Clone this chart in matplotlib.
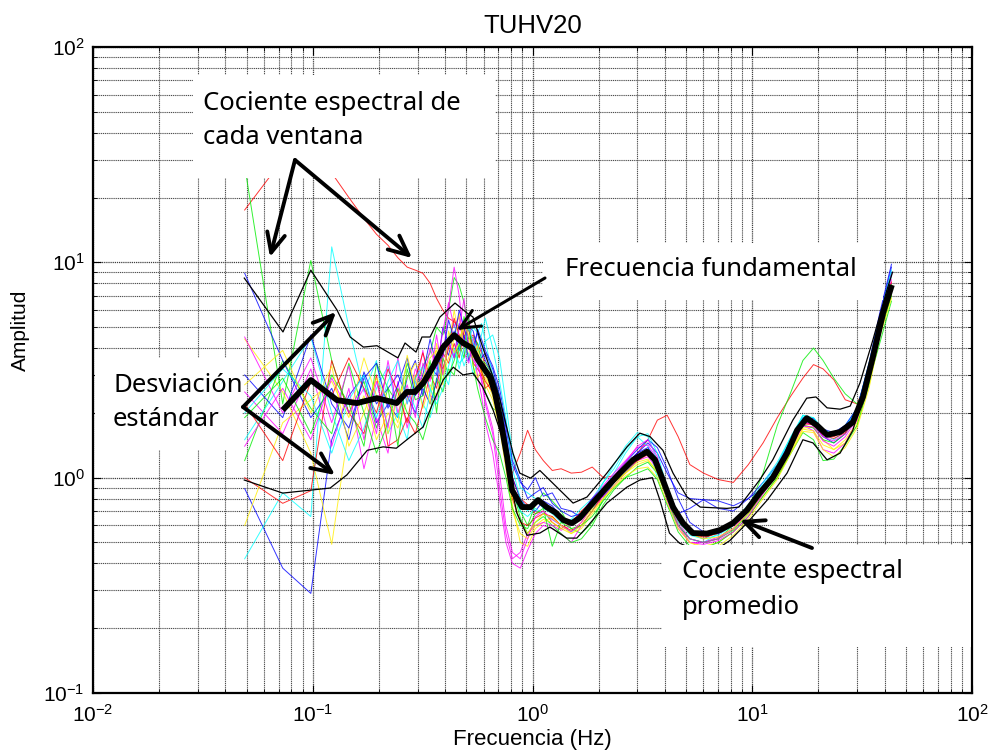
import matplotlib
matplotlib.use('Agg')
import matplotlib.pyplot as plt
from matplotlib.patches import Rectangle

plt.rcParams['font.family'] = ['Liberation Sans', 'DejaVu Sans']
plt.rcParams['mathtext.default'] = 'regular'

# ---------------- data ----------------
freq_win = [0.049, 0.073, 0.098, 0.122, 0.146, 0.171, 0.195, 0.220, 0.244, 0.269,
            0.293, 0.317, 0.342, 0.366, 0.391, 0.415, 0.440, 0.464, 0.488, 0.513,
            0.537, 0.562, 0.586, 0.610, 0.659, 0.708, 0.757,
            0.81, 0.88, 0.95, 1.03, 1.12, 1.23, 1.35, 1.5, 1.67, 1.87,
            2.1, 2.35, 2.65, 3.0, 3.35, 3.7, 4.1, 4.6, 5.2, 6.0,
            7.0, 8.2, 9.6,
            11.2, 13, 15, 17, 19, 21, 23.5, 26.5, 30, 34,
            38, 43]

win01 = [17.5, 30, 32, 26, 20, 16, 13.5, 12, 10.5, 9.5,
         9.2, 8.9, 8.0, 6.8, 6.0, 5.5, 5.3, 5.0, 4.6, 4.4,
         4.6, 4.2, 3.8, 3.3, 2.6, 1.9, 1.3,
         1.05, 1.3, 1.66, 1.35, 1.2, 1.08, 1.1, 1.05, 1.06, 1.12,
         1.0, 1.02, 1.15, 1.3, 1.5, 1.85, 1.95, 1.55, 1.15, 1.05,
         0.98, 0.95, 1.15,
         1.45, 1.9, 2.4, 2.9, 3.35, 3.2, 2.85, 2.3, 2.2, 3.0,
         4.8, 7.5]
win02 = [28, 2.2, 10.2, 3.5, 2.0, 2.8, 1.7, 2.6, 2.2, 3.4,
         2.6, 3.3, 3.8, 5.0, 4.6, 6.0, 8.5, 7.8, 6.5, 5.0,
         4.0, 3.6, 3.4, 2.5, 2.1, 2.0, 1.4,
         0.9, 0.7, 0.6, 0.75, 0.85, 0.78, 0.7, 0.58, 0.55, 0.62,
         0.8, 0.95, 1.05, 1.2, 1.35, 1.15, 0.8, 0.6, 0.52, 0.5,
         0.52, 0.6, 0.72,
         1.05, 1.75, 2.5, 3.5, 4.0, 3.5, 2.9, 2.45, 2.2, 2.8,
         4.2, 6.6]
win03 = [0.89, 0.38, 0.29, 1.5, 2.4, 3.0, 1.8, 2.2, 1.9, 2.9,
         3.5, 2.4, 3.3, 3.0, 5.0, 4.2, 3.6, 5.2, 4.4, 5.0,
         4.8, 4.0, 3.6, 3.8, 3.2, 2.4, 1.7,
         1.15, 0.95, 0.88, 1.0, 0.82, 0.85, 0.72, 0.7, 0.65, 0.78,
         0.82, 0.95, 1.15, 1.3, 1.45, 1.3, 1.05, 0.85, 0.8, 0.79,
         0.72, 0.7, 0.8,
         0.95, 1.15, 1.5, 1.85, 1.75, 1.55, 1.45, 1.6, 2.1, 3.3,
         5.6, 9.5]
win04 = [0.42, 0.85, 0.66, 11.8, 5.0, 2.5, 3.5, 1.6, 2.0, 1.5,
         2.8, 2.2, 1.9, 2.4, 3.1, 2.7, 3.9, 3.4, 3.6, 4.4,
         5.0, 4.7, 5.2, 4.3, 4.6, 3.6, 2.2,
         1.3, 0.9, 0.85, 0.8, 0.72, 0.68, 0.62, 0.64, 0.72, 0.8,
         0.95, 1.1, 1.35, 1.55, 1.4, 1.0, 0.75, 0.6, 0.52, 0.5,
         0.55, 0.62, 0.75,
         0.92, 1.1, 1.5, 1.95, 1.85, 1.6, 1.5, 1.65, 2.0, 3.3,
         5.5, 8.6]
win05 = [2.5, 1.6, 3.2, 1.4, 2.6, 1.1, 1.9, 1.3, 2.8, 1.7,
         2.5, 3.9, 2.4, 2.3, 3.5, 6.2, 9.5, 7.0, 4.2, 5.6,
         3.8, 3.0, 2.4, 1.8, 1.3, 0.8, 0.5,
         0.4, 0.38, 0.46, 0.55, 0.6, 0.58, 0.55, 0.5, 0.6, 0.7,
         0.82, 0.92, 1.05, 1.2, 1.25, 1.1, 0.78, 0.58, 0.5, 0.5,
         0.53, 0.58, 0.68,
         0.85, 1.05, 1.38, 1.75, 1.65, 1.35, 1.3, 1.45, 1.85, 2.9,
         4.9, 8.0]
win06 = [4.4, 2.5, 1.3, 0.49, 1.7, 2.4, 1.5, 2.0, 1.7, 2.3,
         3.0, 2.1, 2.7, 2.4, 3.2, 4.0, 6.0, 4.5, 4.9, 3.6,
         4.4, 3.9, 3.0, 2.9, 2.4, 1.8, 1.2,
         0.75, 0.5, 0.48, 0.58, 0.62, 0.66, 0.6, 0.56, 0.62, 0.72,
         0.85, 0.95, 1.05, 1.15, 1.2, 1.08, 0.82, 0.6, 0.5, 0.48,
         0.5, 0.56, 0.66,
         0.82, 1.0, 1.35, 1.7, 1.72, 1.5, 1.35, 1.45, 1.75, 2.8,
         4.8, 7.0]
win07 = [1.0, 0.76, 0.87, 3.5, 2.0, 1.6, 3.0, 1.4, 1.5, 1.9,
         1.6, 2.2, 3.0, 2.6, 3.8, 3.4, 4.2, 3.6, 4.8, 5.2,
         3.4, 3.2, 3.0, 2.6, 2.8, 2.1, 1.5,
         1.0, 0.8, 0.75, 0.68, 0.7, 0.62, 0.58, 0.62, 0.7, 0.78,
         0.85, 0.95, 1.1, 1.2, 1.28, 1.15, 0.88, 0.65, 0.55, 0.52,
         0.56, 0.62, 0.74,
         0.9, 1.1, 1.45, 1.8, 1.78, 1.6, 1.55, 1.65, 1.95, 3.0,
         5.0, 7.6]
win08 = [1.2, 3.5, 2.1, 1.6, 3.4, 2.0, 1.3, 1.8, 2.6, 2.0,
         1.8, 1.5, 2.0, 2.9, 2.5, 3.2, 3.0, 4.0, 5.6, 4.4,
         4.5, 4.2, 3.5, 3.4, 3.0, 2.4, 1.5,
         0.9, 0.65, 0.55, 0.62, 0.66, 0.6, 0.55, 0.5, 0.52, 0.6,
         0.75, 0.88, 1.0, 1.12, 1.18, 1.05, 0.8, 0.6, 0.52, 0.5,
         0.52, 0.57, 0.68,
         0.85, 1.05, 1.4, 1.76, 1.7, 1.5, 1.45, 1.6, 1.9, 3.0,
         5.1, 7.9]
win09 = [8.9, 3.5, 1.9, 2.6, 1.5, 3.1, 2.2, 2.6, 3.0, 2.4,
         2.0, 2.6, 2.2, 2.8, 4.2, 3.7, 4.8, 3.9, 4.6, 3.5,
         4.1, 4.7, 3.9, 3.5, 3.0, 2.4, 1.6,
         1.0, 0.8, 0.72, 0.7, 0.78, 0.74, 0.66, 0.6, 0.65, 0.74,
         0.88, 1.0, 1.15, 1.3, 1.38, 1.2, 0.9, 0.68, 0.72, 0.79,
         0.78, 0.74, 0.8,
         0.9, 1.12, 1.48, 1.85, 1.82, 1.62, 1.6, 1.72, 2.05, 3.2,
         5.4, 9.0]
win10 = [1.5, 2.8, 4.5, 2.0, 1.2, 1.7, 2.6, 3.3, 1.9, 2.6,
         2.1, 1.7, 2.5, 3.4, 2.8, 4.5, 5.2, 4.0, 3.3, 3.8,
         3.0, 3.4, 3.7, 4.3, 3.0, 2.2, 1.4,
         0.85, 0.7, 0.66, 0.72, 0.68, 0.64, 0.6, 0.56, 0.6, 0.7,
         0.88, 1.05, 1.3, 1.55, 1.6, 1.3, 0.9, 0.64, 0.54, 0.52,
         0.54, 0.6, 0.72,
         0.92, 1.15, 1.55, 1.95, 1.9, 1.65, 1.6, 1.75, 2.1, 3.4,
         5.6, 8.8]
win11 = [4.5, 2.0, 3.6, 1.8, 3.3, 1.5, 2.8, 1.7, 3.6, 2.2,
         3.2, 2.7, 4.0, 3.2, 4.8, 6.5, 5.0, 5.6, 3.8, 3.4,
         4.5, 3.5, 2.8, 2.2, 1.6, 0.9, 0.55,
         0.42, 0.45, 0.55, 0.6, 0.62, 0.6, 0.57, 0.6, 0.68, 0.8,
         0.92, 1.05, 1.2, 1.38, 1.42, 1.22, 0.88, 0.62, 0.52, 0.5,
         0.52, 0.58, 0.7,
         0.88, 1.08, 1.42, 1.8, 1.78, 1.55, 1.48, 1.6, 1.95, 3.1,
         5.0, 8.3]
win12 = [0.6, 1.8, 2.3, 2.8, 1.9, 3.6, 2.4, 1.6, 2.4, 2.9,
         3.4, 3.0, 2.2, 4.2, 3.0, 3.6, 4.4, 5.8, 4.0, 4.4,
         3.3, 2.9, 3.2, 2.7, 2.3, 1.7, 1.1,
         0.7, 0.55, 0.52, 0.6, 0.64, 0.62, 0.58, 0.55, 0.58, 0.68,
         0.8, 0.92, 1.05, 1.18, 1.22, 1.05, 0.8, 0.62, 0.55, 0.52,
         0.53, 0.58, 0.68,
         0.85, 1.02, 1.32, 1.68, 1.65, 1.42, 1.35, 1.5, 1.8, 2.9,
         4.9, 7.2]
win13 = [2.2, 1.2, 2.8, 2.4, 3.6, 2.6, 2.0, 3.2, 2.5, 1.8,
         2.9, 3.8, 2.9, 3.6, 3.2, 4.0, 5.5, 4.6, 4.2, 4.9,
         4.0, 3.7, 3.1, 2.8, 2.5, 1.9, 1.25,
         0.8, 0.62, 0.6, 0.65, 0.68, 0.66, 0.6, 0.57, 0.6, 0.7,
         0.84, 0.96, 1.1, 1.22, 1.3, 1.15, 0.86, 0.64, 0.55, 0.53,
         0.55, 0.6, 0.7,
         0.88, 1.08, 1.42, 1.78, 1.76, 1.58, 1.52, 1.62, 1.92, 3.05,
         5.1, 8.1]
win14 = [1.9, 2.9, 1.6, 3.0, 2.2, 1.4, 3.4, 2.6, 1.4, 3.2,
         2.3, 2.4, 3.5, 2.0, 3.6, 3.0, 3.5, 4.2, 3.6, 5.5,
         3.3, 2.6, 2.2, 1.9, 1.5, 1.3, 1.0,
         0.72, 0.6, 0.58, 0.68, 0.72, 0.48, 0.62, 0.58, 0.6, 0.66,
         0.78, 0.9, 1.0, 1.05, 1.1, 0.98, 0.75, 0.56, 0.48, 0.47,
         0.5, 0.56, 0.66,
         0.82, 1.0, 1.3, 1.62, 1.5, 1.2, 1.22, 1.42, 1.75, 2.7,
         4.6, 7.0]
win15 = [3.0, 1.9, 4.6, 2.2, 1.7, 2.9, 3.4, 2.1, 2.7, 3.6,
         2.4, 3.0, 4.4, 3.3, 3.7, 5.4, 4.4, 6.0, 5.0, 4.1,
         3.7, 4.9, 4.4, 3.9, 3.3, 2.6, 1.8,
         1.2, 0.98, 0.8, 0.85, 0.9, 0.76, 0.7, 0.66, 0.68, 0.8,
         0.9, 1.02, 1.18, 1.35, 1.5, 1.38, 1.1, 0.8, 0.62, 0.56,
         0.55, 0.6, 0.7,
         0.9, 1.1, 1.5, 1.9, 1.88, 1.68, 1.62, 1.75, 2.1, 3.4,
         5.8, 9.8]
win16 = [2.0, 3.2, 2.4, 1.3, 2.3, 3.0, 1.9, 2.8, 3.5, 2.2,
         2.9, 3.3, 2.6, 2.2, 2.6, 3.3, 4.0, 3.2, 4.0, 5.0,
         4.2, 3.9, 4.6, 5.5, 4.0, 2.8, 1.9,
         1.1, 0.8, 0.7, 0.78, 0.76, 0.7, 0.66, 0.62, 0.64, 0.75,
         0.95, 1.15, 1.4, 1.62, 1.55, 1.2, 0.85, 0.62, 0.55, 0.54,
         0.56, 0.62, 0.74,
         0.95, 1.18, 1.55, 1.92, 1.9, 1.68, 1.58, 1.72, 2.05, 3.3,
         5.5, 9.2]
win17 = [1.4, 2.6, 1.5, 2.9, 2.0, 2.6, 1.6, 3.5, 2.0, 2.7,
         1.9, 3.4, 2.8, 4.6, 3.0, 4.3, 3.6, 4.9, 6.8, 4.0,
         3.5, 3.3, 2.9, 2.3, 1.7, 1.05, 0.6,
         0.45, 0.42, 0.52, 0.66, 0.7, 0.64, 0.6, 0.56, 0.62, 0.74,
         0.9, 1.02, 1.18, 1.4, 1.5, 1.25, 0.85, 0.6, 0.5, 0.49,
         0.51, 0.56, 0.66,
         0.84, 1.04, 1.38, 1.74, 1.72, 1.48, 1.4, 1.55, 1.88, 3.0,
         5.1, 8.8]
win18 = [2.7, 3.9, 2.0, 3.3, 1.4, 2.0, 2.9, 2.3, 1.8, 3.7,
         2.6, 2.9, 3.6, 3.9, 2.7, 4.8, 3.8, 4.2, 5.2, 4.6,
         3.6, 4.1, 3.3, 3.0, 2.5, 1.9, 1.3,
         0.82, 0.62, 0.55, 0.62, 0.68, 0.65, 0.6, 0.55, 0.6, 0.7,
         0.8, 0.9, 1.02, 1.1, 1.12, 1.0, 0.76, 0.58, 0.5, 0.47,
         0.48, 0.54, 0.64,
         0.8, 0.98, 1.3, 1.64, 1.62, 1.35, 1.25, 1.38, 1.7, 2.6,
         4.5, 6.8]
windows = [win01, win02, win03, win04, win05, win06, win07, win08, win09,
           win10, win11, win12, win13, win14, win15, win16, win17, win18]
win_colors = ['#ff0000', '#00ee00', '#0000ff', '#00ffff', '#ff00ff', '#ffee00',
              '#ff0000', '#00ee00', '#0000ff', '#00ffff', '#ff00ff', '#ffee00',
              '#ff0000', '#00ee00', '#0000ff', '#00ffff', '#ff00ff', '#ffee00']

mean_freq = [0.073, 0.098, 0.129, 0.159, 0.196, 0.241, 0.268, 0.292, 0.318, 0.352,
             0.392, 0.440, 0.483, 0.531, 0.565, 0.641, 0.675, 0.711, 0.766, 0.807,
             0.896, 0.98, 1.06, 1.16, 1.27, 1.38, 1.51, 1.64, 1.88, 2.18,
             2.50, 2.87, 3.32, 3.61, 3.92, 4.36, 4.84, 5.37, 6.22, 7.13,
             8.17, 9.46, 10.8, 12.4, 14.4, 16.0, 17.7, 19.7, 21.9, 25.1,
             28.7, 31.9, 35.4, 39.4, 43.2]
mean_amp = [2.06, 2.84, 2.29, 2.22, 2.34, 2.22, 2.50, 2.50, 2.75, 3.26,
            4.04, 4.59, 4.22, 4.00, 3.52, 2.93, 2.47, 1.91, 1.25, 0.875,
            0.73, 0.73, 0.787, 0.73, 0.69, 0.636, 0.615, 0.65, 0.762, 0.904,
            1.05, 1.21, 1.32, 1.21, 0.975, 0.73, 0.615, 0.553, 0.55, 0.571,
            0.615, 0.707, 0.848, 1.0, 1.30, 1.66, 1.89, 1.75, 1.58, 1.63,
            1.81, 2.37, 3.63, 5.82, 7.85]

std_up_freq = [0.0488, 0.0732, 0.098, 0.129, 0.148, 0.170, 0.196, 0.244, 0.263, 0.295,
               0.314, 0.342, 0.379, 0.444, 0.503, 0.536, 0.593, 0.662, 0.711, 0.815,
               0.875, 0.98, 1.08, 1.29, 1.53, 1.77, 2.18, 2.69, 3.08, 3.43,
               3.92, 4.36, 5.05, 5.8, 7.67, 8.7, 10.8, 12.4, 15.3, 17.7,
               19.5, 21.9, 25.1, 27.9, 30.9, 35.4, 41.0, 43.5]
std_up_amp = [8.45, 4.75, 9.2, 6.0, 4.5, 4.04, 4.1, 3.6, 4.22, 3.83,
              4.5, 4.5, 5.57, 6.47, 5.82, 5.57, 4.04, 2.93, 2.3, 1.30,
              1.05, 0.995, 1.08, 0.904, 0.762, 0.813, 1.05, 1.39, 1.61, 1.55,
              1.34, 1.05, 0.813, 0.73, 0.72, 0.73, 0.975, 1.21, 1.85, 2.34,
              2.37, 2.11, 2.08, 2.15, 2.75, 4.36, 7.44, 9.0]

std_lo_freq = [0.0488, 0.073, 0.12, 0.143, 0.177, 0.209, 0.24, 0.268, 0.318, 0.352,
               0.392, 0.436, 0.483, 0.536, 0.593, 0.662, 0.735, 0.79, 0.849, 0.944,
               1.08, 1.20, 1.43, 1.59, 1.77, 2.18, 2.69, 3.08, 3.51, 3.8,
               4.2, 4.66, 5.5, 7.0, 7.9, 9.46, 11.7, 14.4, 17.0, 18.9,
               21.9, 25.1, 28.7, 33.3, 38.1, 42.3]
std_lo_amp = [0.975, 0.848, 0.895, 1.03, 1.34, 1.39, 1.37, 1.50, 1.72, 2.22,
              2.84, 3.26, 3.0, 3.06, 2.64, 2.06, 1.50, 0.975, 0.685, 0.54,
              0.553, 0.59, 0.524, 0.524, 0.59, 0.762, 0.904, 0.975, 1.0, 0.787,
              0.553, 0.497, 0.46, 0.47, 0.51, 0.615, 0.787, 1.05, 1.50, 1.45,
              1.21, 1.30, 1.66, 2.84, 5.22, 6.9]

title_text = 'TUHV20'
x_label = 'Frecuencia (Hz)'
y_label = 'Amplitud'
note_windows = ['Cociente espectral de', 'cada ventana']
note_std = ['Desviación', 'estándar']
note_f0 = ['Frecuencia fundamental']
note_mean = ['Cociente espectral', 'promedio']

# ---------------- figure ----------------
W, H = 989, 755
AX_L, AX_R, AX_T, AX_B = 93, 972, 47, 693
fig = plt.figure(figsize=(W / 100, H / 100), dpi=100)
ax = fig.add_axes([AX_L / W, (H - AX_B) / H, (AX_R - AX_L) / W, (AX_B - AX_T) / H])
ax.set_xscale('log')
ax.set_yscale('log')
ax.set_xlim(1e-2, 1e2)
ax.set_ylim(1e-1, 1e2)


def fx(px):
    return (px - AX_L) / (AX_R - AX_L)


def fy(py):
    return (AX_B - py) / (AX_B - AX_T)


for w, c in zip(windows, win_colors):
    ax.plot(freq_win, w, color=c, lw=0.7, alpha=0.8, zorder=2)
ax.plot(std_up_freq, std_up_amp, color='k', lw=0.9, zorder=3)
ax.plot(std_lo_freq, std_lo_amp, color='k', lw=0.9, zorder=3)
ax.plot(mean_freq, mean_amp, color='k', lw=4.2, zorder=4,
        solid_joinstyle='round', solid_capstyle='butt')

ax.grid(True, which='major', color='0.25', linestyle=(0, (1, 0.7)), lw=0.9)
ax.grid(True, which='minor', color='0.3', linestyle=(0, (1, 0.7)), lw=0.8)
ax.set_axisbelow('line')
ax.tick_params(which='both', direction='in', top=True, right=True, labelsize=15)
ax.tick_params(axis='x', which='major', pad=8)
ax.tick_params(axis='y', which='major', pad=6)
ax.tick_params(which='major', length=6, width=0.8)
ax.tick_params(which='minor', length=3, width=0.6)
for s in ax.spines.values():
    s.set_linewidth(1.6)

ax.set_title(title_text, fontsize=18.5, pad=10)
ax.set_xlabel(x_label, fontsize=16, labelpad=2)
ax.set_ylabel(y_label, fontsize=15, labelpad=8)
ax.yaxis.set_label_coords(-0.072, fy(330))


def white_box(x0, y0, x1, y1):
    ax.add_patch(Rectangle((fx(x0), fy(y1)), fx(x1) - fx(x0), fy(y0) - fy(y1),
                           transform=ax.transAxes, facecolor='white',
                           edgecolor='none', zorder=5))


def note(lines, x, ys):
    for s, y in zip(lines, ys):
        ax.text(fx(x), fy(y), s, transform=ax.transAxes, ha='left', va='center',
                fontsize=18.5, family=['Noto Sans', 'DejaVu Sans'], zorder=7)


def arrow(x0, y0, x1, y1, lw=2.8):
    ax.annotate('', xy=(fx(x1), fy(y1)), xytext=(fx(x0), fy(y0)),
                xycoords='axes fraction', textcoords='axes fraction',
                arrowprops=dict(arrowstyle='->,head_length=1.4,head_width=0.65',
                                lw=lw, color='k', shrinkA=0, shrinkB=0,
                                mutation_scale=10), zorder=6)


white_box(193, 75, 495, 178)
note(note_windows, 203, [103, 138])
arrow(295, 160, 270, 257)
arrow(295, 160, 412, 258)

white_box(95, 358, 242, 450)
note(note_std, 113, [385, 420])
arrow(243, 407, 336, 312)
arrow(243, 407, 335, 475)

white_box(543, 243, 883, 300)
note(note_f0, 565, [269])
arrow(545, 278, 457, 330, lw=2.2)

white_box(662, 545, 971, 647)
note(note_mean, 682, [572, 607])
arrow(812, 548, 740, 520, lw=2.8)

fig.savefig('out.png', dpi=100)
